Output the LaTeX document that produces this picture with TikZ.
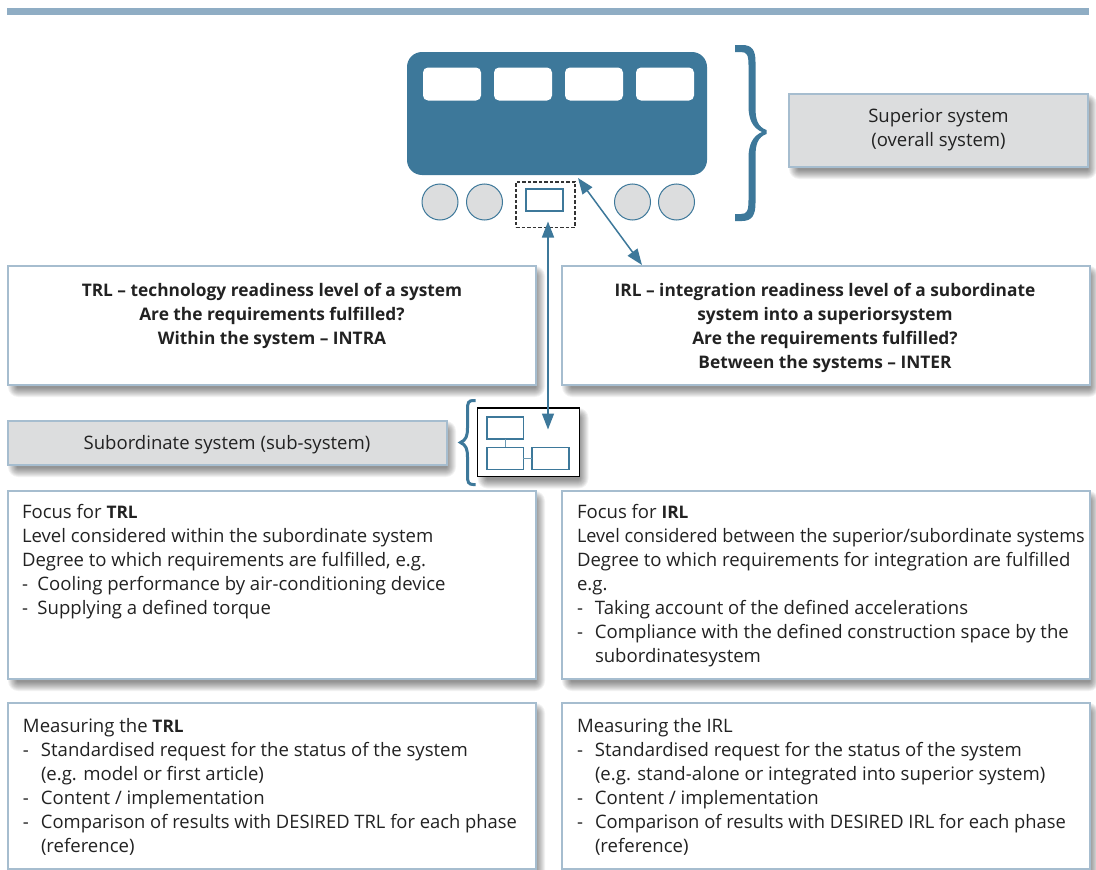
\documentclass[tikz,border=0pt]{standalone}
\usepackage{fontspec}
\usepackage{graphicx}
\setmainfont[BoldFeatures={Scale=0.933}]{Open Sans}
\usetikzlibrary{arrows.meta}
\definecolor{sysblue}{HTML}{3D789A}
\definecolor{edgeblue}{HTML}{A6BDCF}
\definecolor{barblue}{HTML}{8FADC4}
\definecolor{panel}{HTML}{DCDDDE}
\definecolor{ink}{HTML}{222222}
\tikzset{
  x=1pt,y=-1pt,
  every node/.style={inner sep=0pt,outer sep=0pt,text=ink,font=\fontsize{18.55}{24}\selectfont},
  panelbox/.style={draw=edgeblue,line width=1.2pt,fill=white,rectangle},
  greybox/.style={panelbox,fill=panel},
  wheel/.style={circle,draw=sysblue,fill=panel,line width=1pt,minimum size=36pt},
  window/.style={rectangle,rounded corners=5pt,fill=white,minimum width=58pt,minimum height=33pt},
  minibox/.style={rectangle,draw=sysblue,fill=white,line width=1.1pt},
  minilink/.style={draw=sysblue!75,line width=1.3pt},
  link/.style={draw=sysblue,line width=1.5pt,{Triangle[length=16pt,width=12pt]}-{Triangle[length=16pt,width=12pt]}},
  lefttext/.style={anchor=north west,align=left},
  midtext/.style={anchor=north,align=center}
}
\newcommand{\softshadow}[4]{%
  \foreach \k in {0,...,9}{%
    \fill[black,opacity=.05,rounded corners={(\k+1)*1pt}]
      ({#1+9-\k},{#2+9-\k}) rectangle ({#3+\k},{#4+3+\k});
  }}
\newcommand{\boxat}[6]{% style,name,x1,y1,x2,y2
  \softshadow{#3}{#4}{#5}{#6}
  \node[#1,minimum width={(#5-#3)*1pt},minimum height={(#6-#4)*1pt}] (#2) at ({(#3+#5)/2},{(#4+#6)/2}) {};
}
\newcommand{\li}[1]{\makebox[18pt][l]{-}#1}
\newcommand{\lj}[1]{\makebox[15.5pt][l]{-}#1}
\newcommand{\lc}[1]{\hspace*{18pt}#1}
\begin{document}
\begin{tikzpicture}
\useasboundingbox (0,0) rectangle (1096,870);
\fill[white] (0,0) rectangle (1096,870);
\node[rectangle,fill=barblue,minimum width=1082pt,minimum height=7pt] (bar) at (548,11.5) {};

% bus
\node[rectangle,fill=sysblue,rounded corners=15pt,minimum width=300pt,minimum height=123pt] (bus) at (557,113.5) {};
\node[window] (w1) at (452,84) {};
\node[window] (w2) at (523,84) {};
\node[window] (w3) at (594,84) {};
\node[window] (w4) at (665,84) {};
\node[wheel] (c1) at (440,202) {};
\node[wheel] (c2) at (484.5,202) {};
\node[wheel] (c3) at (632.5,202) {};
\node[wheel] (c4) at (676.5,202) {};
\node[rectangle,draw=black!80,dash pattern=on 3.5pt off 2pt,line width=1.1pt,minimum width=59pt,minimum height=45.5pt] (slot) at (545.5,204.7) {};
\node[minibox,minimum width=37pt,minimum height=22pt] (slotin) at (544.5,200) {};

% large brace
\fill[sysblue] (735,45) -- (742,45) .. controls (752,45) and (755.5,50) .. (755.5,62) -- (755.5,108)
  .. controls (755.5,120) and (758,127) .. (766.5,130) -- (766.5,134)
  .. controls (758,137) and (755.5,144) .. (755.5,156) -- (755.5,203)
  .. controls (755.5,215) and (752,221) .. (742,221) -- (735,221) -- (735,214) -- (741,214)
  .. controls (747,214) and (748.5,211) .. (748.5,200) -- (748.5,158)
  .. controls (748.5,144) and (753,136) .. (762,132)
  .. controls (753,128) and (748.5,120) .. (748.5,106) -- (748.5,65)
  .. controls (748.5,55) and (747,52) .. (741,52) -- (735,52) -- cycle;

% panels
\boxat{greybox}{superior}{789}{94}{1088}{167}
\node[midtext] (superiortext) at (938.5,109) {Superior system\\(overall system)};

\boxat{panelbox}{trl}{8}{266}{536}{385}
\node[midtext] (trltext) at (272,283.5) {\bfseries TRL – technology readiness level of a system\\\bfseries Are the requirements fulfilled?\\\bfseries Within the system – INTRA};
\boxat{panelbox}{irl}{562}{266}{1090}{385}
\node[midtext] (irltext) at (825,283.5) {\bfseries IRL – integration readiness level of a subordinate\\\bfseries system into a superiorsystem\\\bfseries Are the requirements fulfilled?\\\bfseries Between the systems – INTER};

\boxat{greybox}{sub}{8}{421}{447}{465}
\node[anchor=center] (subtext) at (227,444.5) {Subordinate system (sub-system)};

% small brace
\draw[sysblue,line width=3pt,line cap=butt] (475.5,400.5) -- (473,400.5) .. controls (468.5,400.5) and (467.5,403) .. (467.5,409) -- (467.5,428)
  .. controls (467.5,436) and (466,440) .. (460.5,442.5)
  .. controls (466,445) and (467.5,449) .. (467.5,457) -- (467.5,476)
  .. controls (467.5,482) and (468.5,484.5) .. (473,484.5) -- (475.5,484.5);

% sub-system sketch
\softshadow{477.5}{408}{579.5}{476.5}
\node[rectangle,draw=black,fill=white,line width=1.2pt,minimum width=102pt,minimum height=68.5pt] (frame) at (528.5,442.2) {};
\node[minibox,minimum width=36.5pt,minimum height=22pt] (m1) at (505.2,428) {};
\node[minibox,minimum width=36.5pt,minimum height=22pt] (m2) at (505.2,458.2) {};
\node[minibox,minimum width=37pt,minimum height=22pt] (m3) at (550.5,458.2) {};
\draw[minilink] (m1) -- (m2);
\draw[minilink] (m2) -- (m3);

% lower panels
\boxat{panelbox}{ftrl}{8}{491}{536}{679}
\node[lefttext] (ftrltext) at (22,504.5) {Focus for \textbf{TRL}\\Level considered within the subordinate system\\Degree to which requirements are fulfilled, e.g.\\\lj{Cooling performance by air-conditioning device}\\\lj{Supplying a defined torque}};
\boxat{panelbox}{firl}{562}{491}{1090}{679}
\node[lefttext] (firltext) at (577,504.5) {Focus for \textbf{IRL}\\\scalebox{0.973}[1]{Level considered between the superior/subordinate systems}\\Degree to which requirements for integration are fulfilled\\e.g.\\\li{Taking account of the defined accelerations}\\\li{Compliance with the defined construction space by the}\\\lc{subordinatesystem}};
\boxat{panelbox}{mtrl}{8}{703}{536}{869}
\node[lefttext] (mtrltext) at (23,718.2) {Measuring the \textbf{TRL}\\\li{Standardised request for the status of the system}\\\lc{(e.g. model or first article)}\\\li{Content / implementation}\\\li{\scalebox{0.99}[1]{Comparison of results with DESIRED TRL for each phase}}\\\lc{(reference)}};
\boxat{panelbox}{mirl}{562}{703}{1090}{869}
\node[lefttext] (mirltext) at (577,718.2) {Measuring the IRL\\\li{Standardised request for the status of the system}\\\lc{(e.g. stand-alone or integrated into superior system)}\\\li{Content / implementation}\\\li{\scalebox{0.99}[1]{Comparison of results with DESIRED IRL for each phase}}\\\lc{(reference)}};

% connectors
\coordinate (a1) at (548,221.5);
\coordinate (a2) at (548,429.5);
\coordinate (b1) at (578,178);
\coordinate (b2) at (642,265);
\draw[link] (a1) -- (a2);
\draw[link] (b1) -- (b2);
\end{tikzpicture}
\end{document}
